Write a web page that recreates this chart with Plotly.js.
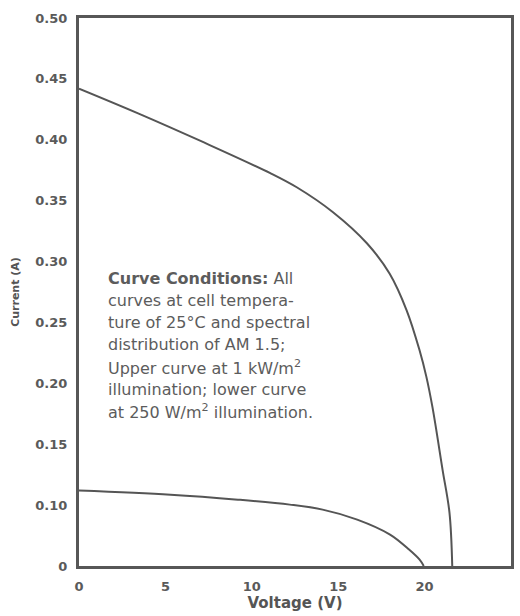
<!DOCTYPE html>
<html>
<head>
<meta charset="utf-8">
<script src="https://cdn.plot.ly/plotly-3.0.1.min.js"></script>
<style>html,body{margin:0;padding:0;background:#fff;}#chart{width:520px;height:616px;}</style>
</head>
<body>
<div id="chart"></div>
<script>
// Upper curve: 1 kW/m² illumination
const upperVoltage = [0, 3.42, 7.2, 11.07, 12.6, 14.7, 16.66, 17.98, 18.96, 19.7, 20.1, 20.46, 21.04, 21.44, 21.6];
const upperCurrent = [0.442, 0.4217, 0.398, 0.3726, 0.361, 0.3405, 0.315, 0.29, 0.26, 0.2275, 0.2055, 0.18, 0.129, 0.0877, 0];
// Lower curve: 250 W/m² illumination
const lowerVoltage = [0, 5.3, 9.2, 12.2, 14.1, 16.1, 18.0, 19.1, 19.7, 19.95];
const lowerCurrent = [0.112, 0.1086, 0.1045, 0.1004, 0.0926, 0.0762, 0.0516, 0.027, 0.0107, 0];
// Axis ticks (the y axis is broken: 0 -> 0.10 occupies one step)
const yTickValues = [0, 0.10, 0.15, 0.20, 0.25, 0.30, 0.35, 0.40, 0.45, 0.50];
const yTickLabels = ['0', '0.10', '0.15', '0.20', '0.25', '0.30', '0.35', '0.40', '0.45', '0.50'];
const xTickValues = [0, 5, 10, 15, 20, 25];
const noteLines = [
  '<b>Curve Conditions:</b> All',
  'curves at cell tempera-',
  'ture of 25°C and spectral',
  'distribution of AM 1.5;',
  'Upper curve at 1 kW/m<sup>2</sup>',
  'illumination; lower curve',
  'at 250 W/m<sup>2</sup> illumination.'
];

// piecewise axis scale matching the original broken axis
function axisPos(c) { return c < 0.10 ? c / 0.10 : 1 + (c - 0.10) / 0.05; }

const lineColor = '#555555';
const traces = [
  {x: upperVoltage, y: upperCurrent.map(axisPos), mode: 'lines',
   line: {color: lineColor, width: 2, shape: 'spline', smoothing: 1}, hoverinfo: 'skip'},
  {x: lowerVoltage, y: lowerCurrent.map(axisPos), mode: 'lines',
   line: {color: lineColor, width: 2, shape: 'spline', smoothing: 1}, hoverinfo: 'skip'}
];

const tickFont = {family: 'DejaVu Sans', size: 13, color: '#5a5a5a', weight: 'bold'};
const annotations = noteLines.map((t, i) => ({
  xref: 'paper', yref: 'paper', x: 0.063, y: (566.5 - (278 + 22.3 * i)) / 549,
  xanchor: 'left', yanchor: 'middle', showarrow: false, align: 'left',
  text: t, font: {family: 'DejaVu Sans', size: 16, color: '#5c5c5c'}
}));

const layout = {
  width: 520, height: 616,
  margin: {l: 79, r: 9, t: 18, b: 50},
  paper_bgcolor: '#ffffff', plot_bgcolor: '#ffffff',
  showlegend: false,
  xaxis: {
    range: [0, 25], tickvals: xTickValues, showgrid: false, zeroline: false,
    showline: true, mirror: true, linewidth: 3, linecolor: '#575757',
    ticks: 'outside', ticklen: 6, tickcolor: 'rgba(0,0,0,0)',
    tickfont: tickFont,
    title: {text: 'Voltage (V)', font: {family: 'DejaVu Sans', size: 15, color: '#555555', weight: 'bold'}, standoff: 5}
  },
  yaxis: {
    range: [0, 9], tickvals: yTickValues.map(axisPos), ticktext: yTickLabels,
    showgrid: false, zeroline: false,
    showline: true, mirror: true, linewidth: 3, linecolor: '#575757',
    ticks: 'outside', ticklen: 6, tickcolor: 'rgba(0,0,0,0)',
    tickfont: tickFont,
    title: {text: 'Current (A)', font: {family: 'DejaVu Sans', size: 11, color: '#555555', weight: 'bold'}, standoff: 14}
  },
  annotations: annotations
};

Plotly.newPlot('chart', traces, layout, {staticPlot: true, displayModeBar: false});
</script>
</body>
</html>
